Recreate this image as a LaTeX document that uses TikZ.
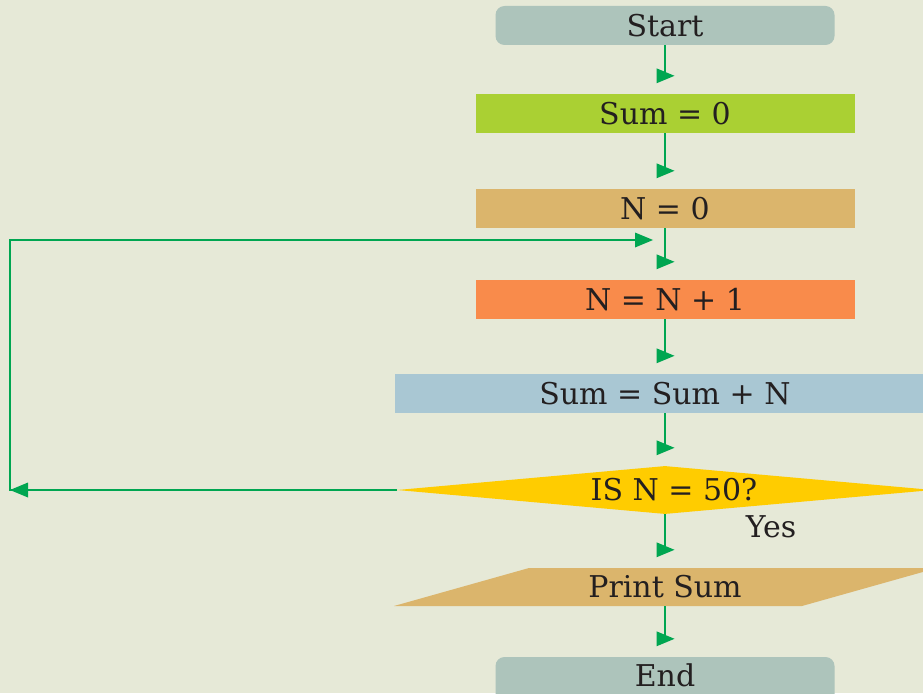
\documentclass[tikz,border=0pt]{standalone}
\usepackage{fontspec}
\setmainfont{DejaVu Serif}
\usetikzlibrary{shapes.geometric,calc}
\definecolor{bgc}{RGB}{230,233,215}
\definecolor{termc}{RGB}{173,196,187}
\definecolor{sumc}{RGB}{170,208,51}
\definecolor{nc}{RGB}{219,181,108}
\definecolor{nnc}{RGB}{249,139,75}
\definecolor{sumnc}{RGB}{169,199,211}
\definecolor{decc}{RGB}{255,204,0}
\definecolor{flowc}{RGB}{0,166,81}
\definecolor{txtc}{RGB}{35,31,32}
\newcommand\mainsize{\fontsize{30}{35}\selectfont}
\begin{document}
\begin{tikzpicture}[x=1pt,y=-1pt,
  box/.style={rectangle, inner sep=0pt, minimum width=379pt, minimum height=39pt, text=txtc, font=\mainsize},
  term/.style={box, rounded corners=9pt, minimum width=339pt, fill=termc},
  flow/.style={draw=flowc, line width=2.5pt},
  rhead/.pic={\fill[flowc] (0,0) -- (-18,-7.5) -- (-18,7.5) -- cycle;}
]
\useasboundingbox (0,0) rectangle (923,693);
\clip (0,0) rectangle (923,693);
\fill[bgc] (0,0) rectangle (923,693);

\node[term] (start) at (665,25.5) {Start};
\node[box, fill=sumc] (sum0) at (665,113.5) {Sum = 0};
\node[box, fill=nc] (n0) at (665,208.5) {N = 0};
\node[box, fill=nnc] (nn1) at (665,299.5) {N = N + 1};
\node[box, fill=sumnc, minimum width=540pt] (sumn) at (665,393.5) {Sum = Sum + N};
\node[diamond, fill=decc, minimum width=536pt, minimum height=48pt, inner sep=0pt,
      label={[text=txtc, font=\mainsize, xshift=9pt]center:IS N = 50?}] (dec) at (665,490) {};
\fill[nc] (394,606) -- (529,568) -- (937,568) -- (802,606) -- cycle;
\node[box, minimum width=270pt, minimum height=38pt] (print) at (665,587) {Print Sum};
\fill[termc, rounded corners=9pt] (495.5,657) rectangle (834.5,705);
\node[box, minimum width=339pt, minimum height=36pt] (end) at (665,675) {End};
\node[text=txtc, font=\mainsize, inner sep=0pt] (yes) at (771,527) {Yes};

\foreach \a/\b in {start/sum0, sum0/n0, n0/nn1, nn1/sumn, sumn/dec, dec/print, print/end} {
  \coordinate (h-\b) at ($(\b.north)+(0,-18)$);
  \draw[flow] (\a.south) -- (h-\b);
  \pic at ($(h-\b)+(9.5,0)$) {rhead};
}

\coordinate (lb) at (10,490);
\coordinate (lt) at (10,240);
\coordinate (ltip) at (653,240);
\draw[flow] (dec.west) -- (lb) -- (lt) -- ($(ltip)+(-8,0)$);
\pic at (ltip) {rhead};
\pic[rotate=180] at (lb) {rhead};
\end{tikzpicture}
\end{document}
